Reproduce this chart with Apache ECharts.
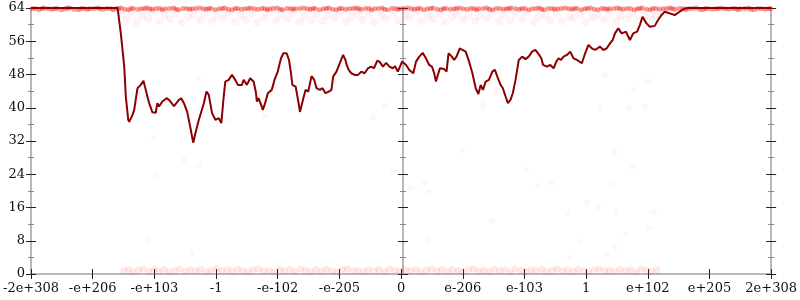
<!DOCTYPE html>
<html><head><meta charset="utf-8">
<script src="https://cdn.jsdelivr.net/npm/echarts@6/dist/echarts.min.js"></script>
<style>html,body{margin:0;padding:0;background:#fff}#c{width:800px;height:300px}</style>
</head><body><div id="c"></div>
<script>
// x tick labels (positions 0..12 on the x scale)
const xTickLabels = ['-2e+308','-e+206','-e+103','-1','-e-102','-e-205','0','e-206','e-103','1','e+102','e+205','2e+308'];
const yMin = 0, yMax = 64, yStep = 8;

// main dark red line
const lineX = [0,1.403,1.456,1.511,1.537,1.576,1.592,1.645,1.673,1.726,1.779,1.823,1.860,1.915,1.968,2.021,2.048,2.076,2.129,2.198,2.237,2.318,2.398,2.435,2.479,2.532,2.585,2.629,2.666,2.721,2.802,2.844,2.882,2.935,2.989,3.044,3.085,3.124,3.150,3.205,3.258,3.311,3.355,3.419,3.447,3.500,3.553,3.608,3.645,3.661,3.689,3.731,3.758,3.795,3.839,3.903,3.947,4.000,4.053,4.092,4.145,4.182,4.215,4.237,4.290,4.334,4.360,4.387,4.415,4.452,4.495,4.548,4.592,4.629,4.682,4.726,4.774,4.827,4.871,4.898,4.952,5.005,5.060,5.097,5.118,5.150,5.194,5.247,5.302,5.355,5.408,5.463,5.516,5.560,5.613,5.650,5.705,5.758,5.811,5.866,5.903,5.947,5.973,6.016,6.081,6.134,6.198,6.242,6.295,6.350,6.403,6.456,6.500,6.537,6.565,6.592,6.629,6.698,6.737,6.769,6.823,6.860,6.898,6.952,6.995,7.048,7.102,7.156,7.210,7.253,7.290,7.327,7.371,7.424,7.479,7.521,7.560,7.613,7.650,7.694,7.731,7.774,7.811,7.855,7.908,7.963,8.016,8.069,8.124,8.177,8.221,8.274,8.302,8.366,8.419,8.473,8.516,8.553,8.592,8.634,8.689,8.742,8.795,8.850,8.931,8.984,9.037,9.092,9.145,9.226,9.279,9.334,9.387,9.431,9.468,9.521,9.576,9.645,9.710,9.763,9.827,9.871,9.915,9.979,10.032,10.113,10.166,10.221,10.274,10.355,10.435,10.516,10.597,10.650,12];
const lineY = [64,64,57.9,49.9,42.7,37.1,36.6,38.3,39.5,44.7,45.5,46.5,44.3,41.1,38.9,38.8,41.1,40.3,41.5,42.3,41.9,40.4,41.9,42.3,41.1,39.0,35.1,31.6,33.9,37.1,41.1,43.9,43.1,38.7,37.1,37.5,36.3,42.7,46.3,46.7,47.9,46.7,45.5,45.5,46.7,45.5,47.1,46.3,43.8,41.5,42.3,40.7,39.5,41.1,43.5,44.3,46.7,48.7,51.9,53.1,53.1,51.5,48.3,45.5,45.1,41.5,39.0,39.0,42.3,44.3,43.9,47.6,46.7,44.7,44.3,44.7,43.5,43.9,44.3,47.5,48.7,50.7,52.7,51.5,50.3,49.1,48.3,47.9,47.9,48.7,48.3,49.5,49.9,49.5,51.3,51.1,49.9,50.8,49.9,49.5,50.0,48.7,49.1,51.1,50.3,49.1,48.3,51.1,52.3,53.2,51.9,50.3,49.9,48.3,46.3,46.7,49.5,49.3,48.7,53.1,52.3,51.5,52.3,54.3,53.9,53.5,51.1,48.3,44.7,43.3,45.5,44.3,46.3,46.7,48.7,49.1,47.5,45.5,44.7,42.7,41.1,41.9,43.5,46.7,51.5,52.3,51.7,52.3,53.5,53.9,53.1,51.9,50.3,49.9,50.3,49.5,51.1,51.9,51.5,52.3,52.7,53.5,51.9,51.5,50.7,53.1,55.1,54.3,53.9,54.7,53.9,54.3,55.5,56.3,57.9,59.1,57.9,58.3,56.3,57.9,58.3,59.9,61.9,60.3,59.5,59.7,61.1,62.3,63.1,62.7,62.3,63.1,63.9,64,64];

// faint scatter: dense band at the top value
const topBand = [[0.02,63.8],[0.07,63.9],[0.13,63.6],[0.18,63.9],[0.21,64],[0.28,63.8],[0.34,63.7],[0.38,63.9],[0.42,63.9],[0.49,63.6],[0.55,63.8],[0.59,64],[0.63,64],[0.7,63.7],[0.77,63.6],[0.81,63.9],[0.86,63.9],[0.91,63.7],[0.95,63.8],[1.02,63.9],[1.08,64],[1.12,63.8],[1.17,63.7],[1.23,63.9],[1.29,63.9],[1.33,63.6],[1.38,63.8],[1.42,63.9],[1.46,64],[1.52,63.7],[1.58,63.6],[1.62,63.9],[1.66,63.9],[1.73,63.7],[1.79,63.8],[1.84,63.9],[1.88,64],[1.93,63.8],[1.97,63.7],[2.03,63.9],[2.09,63.9],[2.13,63.6],[2.18,63.8],[2.25,63.9],[2.31,64],[2.35,63.7],[2.39,63.6],[2.46,63.9],[2.52,63.9],[2.57,63.7],[2.61,63.8],[2.67,63.9],[2.73,64],[2.79,63.8],[2.84,63.7],[2.88,63.9],[2.92,63.9],[2.99,63.6],[3.05,63.8],[3.1,63.9],[3.14,64],[3.2,63.7],[3.26,63.6],[3.31,63.9],[3.35,63.9],[3.41,63.7],[3.47,63.8],[3.52,63.9],[3.56,64],[3.62,63.8],[3.68,63.7],[3.74,63.9],[3.79,63.9],[3.83,63.6],[3.87,63.8],[3.93,63.9],[3.99,64],[4.04,63.7],[4.08,63.6],[4.15,63.9],[4.21,63.9],[4.25,63.7],[4.29,63.8],[4.36,63.9],[4.42,64],[4.48,63.8],[4.53,63.7],[4.57,63.9],[4.61,63.9],[4.68,63.6],[4.74,63.8],[4.79,63.9],[4.83,64],[4.89,63.7],[4.95,63.6],[5.0,63.9],[5.04,63.9],[5.1,63.7],[5.16,63.8],[5.22,63.9],[5.27,64],[5.31,63.8],[5.35,63.7],[5.42,63.9],[5.48,63.9],[5.52,63.6],[5.57,63.8],[5.63,63.9],[5.69,64],[5.73,63.7],[5.78,63.6],[5.85,63.9],[5.91,63.9],[5.95,63.7],[5.99,63.8],[6.05,63.9],[6.11,64],[6.17,63.8],[6.22,63.7],[6.27,63.9],[6.31,63.9],[6.37,63.6],[6.43,63.8],[6.48,63.9],[6.52,64],[6.59,63.7],[6.65,63.6],[6.69,63.9],[6.73,63.9],[6.8,63.7],[6.86,63.8],[6.9,63.9],[6.95,64],[7.01,63.8],[7.07,63.7],[7.13,63.9],[7.18,63.9],[7.22,63.6],[7.26,63.8],[7.33,63.9],[7.39,64],[7.43,63.7],[7.48,63.6],[7.54,63.9],[7.6,63.9],[7.66,63.7],[7.71,63.8],[7.75,63.9],[7.79,64],[7.86,63.8],[7.92,63.7],[7.96,63.9],[8.01,63.9],[8.07,63.6],[8.13,63.8],[8.19,63.9],[8.24,64],[8.28,63.7],[8.32,63.6],[8.39,63.9],[8.45,63.9],[8.49,63.7],[8.54,63.8],[8.6,63.9],[8.66,64],[8.72,63.8],[8.77,63.7],[8.81,63.9],[8.85,63.9],[8.92,63.6],[8.98,63.8],[9.02,63.9],[9.07,64],[9.13,63.7],[9.19,63.6],[9.25,63.9],[9.3,63.9],[9.34,63.7],[9.38,63.8],[9.45,63.9],[9.51,64],[9.55,63.8],[9.6,63.7],[9.66,63.9],[9.72,63.9],[9.78,63.6],[9.83,63.8],[9.87,63.9],[9.91,64],[9.98,63.7],[10.04,63.6],[10.08,63.9],[10.13,63.9],[10.19,63.7],[10.25,63.8],[10.31,63.9],[10.36,64],[10.4,63.8],[10.44,63.7],[10.51,63.9],[10.57,63.9],[10.61,63.6],[10.66,63.8],[10.72,63.9],[10.78,64],[10.84,63.7],[10.89,63.6],[10.93,63.9],[10.97,63.9],[11.04,63.7],[11.1,63.8],[11.14,63.9],[11.19,64],[11.25,63.8],[11.31,63.7],[11.37,63.9],[11.42,63.9],[11.46,63.6],[11.5,63.8],[11.57,63.9],[11.63,64],[11.67,63.7],[11.72,63.6],[11.78,63.9],[11.84,63.9],[11.9,63.7],[11.95,63.8],[11.99,63.9]];

// faint scatter: band just under the top
const nearTopBand = [[1.46,62.5],[1.55,61.2],[1.62,62.8],[1.71,60.6],[1.8,62.1],[1.9,61.5],[1.97,62.9],[2.08,60.9],[2.17,62.3],[2.25,61.4],[2.36,62.7],[2.44,60.4],[2.55,61.9],[2.63,62.6],[2.74,61.1],[2.82,62.4],[2.93,60.8],[3.01,62.0],[3.12,61.6],[3.2,62.8],[3.31,60.7],[3.4,62.2],[3.48,61.3],[3.59,62.6],[3.67,60.5],[3.78,61.8],[3.86,62.9],[3.97,61.0],[4.05,62.3],[4.16,61.5],[4.24,62.7],[4.35,60.6],[4.43,62.0],[4.54,61.2],[4.62,62.5],[4.73,60.9],[4.81,62.2],[4.92,61.6],[5.0,62.8],[5.11,60.7],[5.19,61.9],[5.3,62.4],[5.38,61.1],[5.49,62.6],[5.57,60.5],[5.68,62.1],[5.76,61.4],[5.87,62.7],[5.95,61.0],[6.06,62.3],[6.14,61.7],[6.25,62.9],[6.33,60.8],[6.44,62.0],[6.52,61.3],[6.63,62.5],[6.71,60.6],[6.82,61.8],[6.9,62.6],[7.01,61.2],[7.09,62.4],[7.2,60.9],[7.28,62.1],[7.39,61.5],[7.47,62.8],[7.58,60.7],[7.66,62.2],[7.77,61.0],[7.85,62.6],[7.96,61.4],[8.04,62.9],[8.15,60.5],[8.23,61.9],[8.34,62.3],[8.42,61.1],[8.53,62.7],[8.61,60.8],[8.72,62.0],[8.8,61.6],[8.91,62.5],[8.99,60.6],[9.1,61.8],[9.18,62.4],[9.29,61.2],[9.37,62.8],[9.48,60.9],[9.56,62.1],[9.67,61.5],[9.75,62.6],[9.86,61.0],[9.94,62.2],[10.05,61.7],[10.13,62.4]];

// faint scatter: band at the bottom
const bottomBand = [[1.5,0.8],[1.58,1.1],[1.65,0.5],[1.74,0.9],[1.82,1.2],[1.91,0.6],[1.99,1.0],[2.07,0.7],[2.16,1.1],[2.24,0.5],[2.33,0.9],[2.41,1.2],[2.5,0.6],[2.58,1.0],[2.67,0.8],[2.75,1.1],[2.84,0.5],[2.92,0.9],[3.01,1.2],[3.09,0.7],[3.18,1.0],[3.26,0.6],[3.35,1.1],[3.43,0.8],[3.52,0.5],[3.6,1.0],[3.69,1.2],[3.77,0.7],[3.86,0.9],[3.94,0.5],[4.03,1.1],[4.11,0.8],[4.2,1.0],[4.28,0.6],[4.37,1.2],[4.45,0.9],[4.54,0.5],[4.62,1.0],[4.71,0.7],[4.79,1.1],[4.88,0.8],[4.96,0.5],[5.05,1.0],[5.13,1.2],[5.22,0.7],[5.3,0.9],[5.39,0.6],[5.47,1.1],[5.56,0.8],[5.64,1.0],[5.73,0.5],[5.81,1.2],[5.9,0.9],[5.98,0.6],[6.07,1.0],[6.15,0.8],[6.24,1.1],[6.32,0.5],[6.41,0.9],[6.49,1.2],[6.58,0.7],[6.66,1.0],[6.75,0.6],[6.83,1.1],[6.92,0.8],[7.0,0.5],[7.09,1.0],[7.17,1.2],[7.26,0.7],[7.34,0.9],[7.43,0.6],[7.51,1.1],[7.6,0.8],[7.68,1.0],[7.77,0.5],[7.85,1.2],[7.94,0.9],[8.02,0.6],[8.11,1.0],[8.19,0.8],[8.28,1.1],[8.36,0.5],[8.45,0.9],[8.53,1.2],[8.62,0.7],[8.7,1.0],[8.79,0.6],[8.87,1.1],[8.96,0.8],[9.04,0.5],[9.13,1.0],[9.21,1.2],[9.3,0.7],[9.38,0.9],[9.47,0.6],[9.55,1.1],[9.64,0.8],[9.72,1.0],[9.81,0.5],[9.89,1.2],[9.98,0.9],[10.06,0.6],[10.15,1.0]];

// faint isolated points
const sparsePoints = [[1.995,32.8],[2.721,46.9],[2.479,27.4],[2.721,26.2],[2.032,23.7],[1.903,8.2],[2.613,5.0],[9.306,47.9],[10.0,46.4],[9.774,44.3],[9.226,40.0],[9.694,40.0],[9.952,40.3],[3.177,37.1],[3.795,38.0],[5.731,40.4],[5.544,37.7],[7.532,43.9],[7.327,41.1],[7.339,40.0],[5.866,24.8],[6.15,20.6],[6.376,22.1],[6.447,19.8],[6.995,29.8],[8.027,25.0],[8.221,21.2],[8.435,22.0],[7.479,12.8],[6.447,8.2],[9.011,17.2],[9.189,16.0],[8.698,14.6],[9.479,14.8],[9.403,21.8],[9.456,29.4],[9.747,25.7],[10.1,14.8],[10.02,11.1],[9.645,9.5],[8.892,7.8],[9.473,6.3],[9.334,4.6],[8.742,3.8],[6.027,7.4]];

const FONT = 'DejaVu Serif';
const AXIS_GRAY = '#b8b8b8';
const TICK_DARK = '#222';
const TICK_GRAY = '#888';

function zip(xs, ys) { return xs.map((x, i) => [x, ys[i]]); }

// each vertical axis = two overlapping axes: one with outward ticks, one with inward ticks
function yAxisDef(position, offset, inside, withLabels) {
  return {
    type: 'value', min: yMin, max: yMax, interval: yStep, position: position, offset: offset,
    splitLine: { show: false },
    axisLine: { show: true, onZero: false, lineStyle: { color: AXIS_GRAY, width: 2 } },
    axisTick: { show: true, inside: inside, length: 5, lineStyle: { color: TICK_DARK, width: 1 } },
    minorTick: { show: true, splitNumber: 2, length: 3, lineStyle: { color: TICK_GRAY, width: 1 } },
    axisLabel: withLabels
      ? { show: true, margin: 6, color: '#111', fontFamily: FONT, fontSize: 13 }
      : { show: false }
  };
}

function xAxisDef(inside, withLabels) {
  return {
    type: 'value', min: 0, max: xTickLabels.length - 1, interval: 1, position: 'bottom', offset: 0,
    splitLine: { show: false },
    axisLine: { show: true, onZero: false, lineStyle: { color: AXIS_GRAY, width: 2 } },
    axisTick: { show: true, inside: inside, length: 5, lineStyle: { color: TICK_DARK, width: 1 } },
    axisLabel: withLabels
      ? { show: true, margin: 8, color: '#111', fontFamily: FONT, fontSize: 13,
          showMinLabel: true, showMaxLabel: true,
          formatter: v => xTickLabels[Math.round(v)] }
      : { show: false }
  };
}

const chart = echarts.init(document.getElementById('c'), null, { renderer: 'canvas' });
const centerOffset = -372; // left-side axis moved to the x=0 position

chart.setOption({
  animation: false,
  backgroundColor: '#fff',
  grid: { left: 28, right: 28, top: 8, bottom: 26, containLabel: false },
  xAxis: [ xAxisDef(false, true), xAxisDef(true, false) ],
  yAxis: [
    yAxisDef('left', 0, false, true),
    yAxisDef('left', 0, true, false),
    yAxisDef('left', centerOffset, false, false),
    yAxisDef('left', centerOffset, true, false),
    yAxisDef('right', 0, false, false),
    yAxisDef('right', 0, true, false)
  ],
  series: [
    {
      type: 'scatter', data: bottomBand, symbolSize: 7, clip: false, silent: true,
      itemStyle: { color: '#ff2020', opacity: 0.1 }
    },
    {
      type: 'scatter', data: nearTopBand, symbolSize: 8, clip: false, silent: true,
      itemStyle: { color: '#ff2020', opacity: 0.06 }
    },
    {
      type: 'scatter', data: sparsePoints, symbolSize: 6, clip: false, silent: true,
      itemStyle: { color: '#ff3030', opacity: 0.04 }
    },
    {
      type: 'scatter', data: topBand, symbolSize: 5, clip: false, silent: true,
      itemStyle: { color: '#f01010', opacity: 0.42 }
    },
    {
      type: 'line', data: zip(lineX, lineY), showSymbol: false, symbol: 'none', clip: false,
      lineStyle: { color: '#8b0000', width: 2 }, silent: true
    }
  ]
});
</script>
</body></html>
